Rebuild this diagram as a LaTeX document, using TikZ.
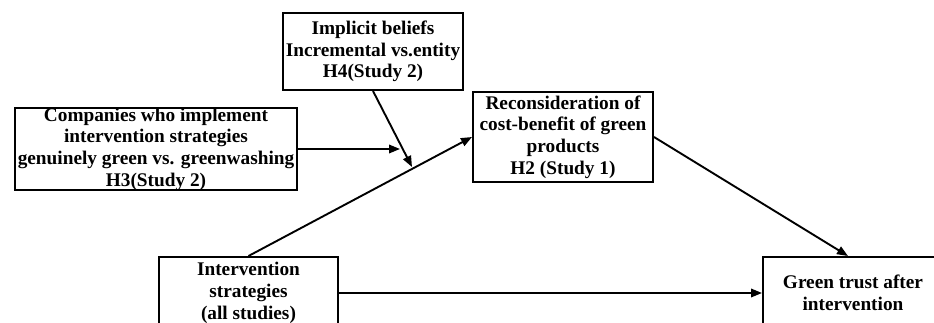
\documentclass[tikz,border=0pt]{standalone}
\usepackage{fontspec}
\setmainfont{Liberation Serif}
\usetikzlibrary{arrows.meta}
\begin{document}
\begin{tikzpicture}[x=1pt,y=-1pt,
  box/.style={draw, line width=2pt, inner sep=0pt, align=center,
    font=\fontsize{19.3}{21.7}\selectfont\bfseries},
  conn/.style={line width=1.9pt, -{Triangle[length=11pt,width=8.5pt]}}]
\useasboundingbox (0,0) rectangle (934,323);
\clip (0,0) rectangle (934,323);
\node[box, minimum width=180pt, minimum height=77pt] (imp) at (373,51.5)
  {Implicit beliefs\\Incremental vs.entity\\H4(Study 2)};
\node[box, minimum width=282pt, minimum height=82pt] (comp) at (156,149)
  {Companies who implement\\intervention strategies\\genuinely green vs. greenwashing\\H3(Study 2)};
\node[box, minimum width=180pt, minimum height=90pt] (rec) at (563,137)
  {Reconsideration of\\cost-benefit of green\\products\\H2 (Study 1)};
\node[box, minimum width=179pt, minimum height=72pt] (int) at (248.5,293)
  {Intervention\\strategies\\(all studies)};
\node[box, minimum width=180pt, minimum height=72pt] (gt) at (853,293)
  {Green trust after\\intervention};
\coordinate (m1) at (400,149);
\coordinate (m2) at (412,167);
\draw[conn] (comp.east) -- (m1);
\draw[conn] (imp.south) -- (m2);
\draw[conn] (int.north) -- (rec.west);
\draw[conn] (rec.east) -- ([xshift=-5pt]gt.north);
\draw[conn] (int.east) -- (gt.west);
\end{tikzpicture}
\end{document}
